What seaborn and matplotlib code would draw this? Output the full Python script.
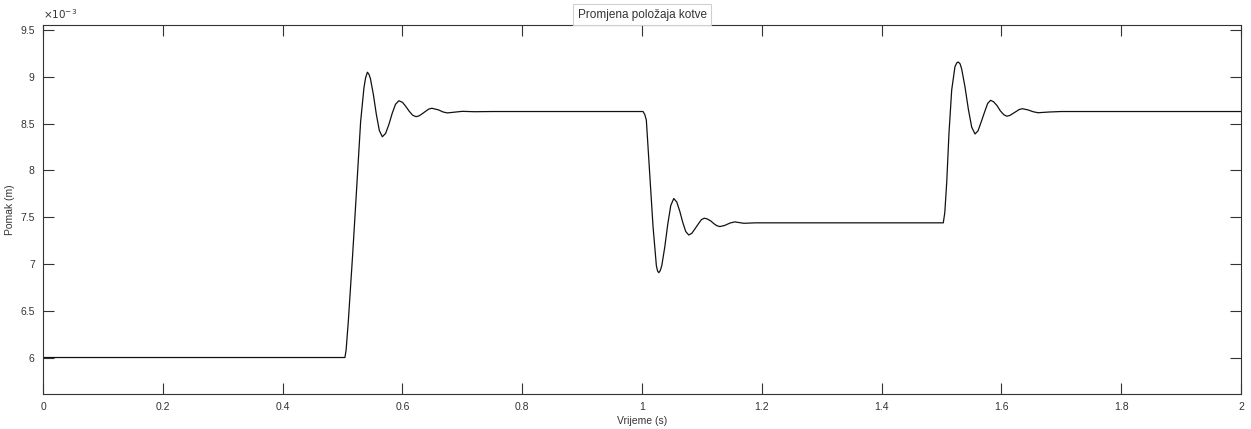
import matplotlib
matplotlib.use("Agg")
import matplotlib.pyplot as plt
import matplotlib.ticker as mticker
import pandas as pd
import seaborn as sns

# armature position (time in s, position in mm)
t_step1 = [0.0, 0.5, 0.504, 0.506, 0.5097, 0.5169, 0.5236, 0.5302, 0.5357, 0.5385, 0.5415,
           0.544, 0.5465, 0.5515, 0.5565, 0.5615, 0.5665, 0.572, 0.5775, 0.583, 0.5885, 0.594,
           0.6, 0.6055, 0.6112, 0.617, 0.6227, 0.628, 0.633, 0.639, 0.644, 0.649,
           0.66, 0.668, 0.675, 0.688, 0.70, 0.72, 0.75]
x_step1 = [6.0, 6.0, 6.0, 6.08, 6.39, 7.10, 7.81, 8.52, 8.88, 8.99, 9.05,
           9.03, 8.984, 8.812, 8.598, 8.426, 8.36, 8.397, 8.493, 8.612, 8.708, 8.745,
           8.729, 8.686, 8.634, 8.591, 8.575, 8.584, 8.606, 8.634, 8.656, 8.665,
           8.648, 8.625, 8.615, 8.624, 8.632, 8.628, 8.63]

t_step2 = [1.0, 1.0017, 1.0045, 1.0072, 1.0128, 1.0184, 1.024, 1.026, 1.028, 1.0305,
           1.033, 1.038, 1.043, 1.048, 1.053, 1.058, 1.063, 1.068, 1.073, 1.078,
           1.083, 1.088, 1.094, 1.099, 1.104, 1.109, 1.115, 1.12, 1.125, 1.13,
           1.138, 1.147, 1.155, 1.17, 1.19]
x_step2 = [8.63, 8.63, 8.60, 8.54, 7.97, 7.40, 6.98, 6.925, 6.907, 6.93,
           6.982, 7.181, 7.426, 7.625, 7.70, 7.663, 7.565, 7.445, 7.347, 7.31,
           7.327, 7.372, 7.428, 7.473, 7.49, 7.481, 7.459, 7.431, 7.409, 7.40,
           7.412, 7.438, 7.45, 7.435, 7.44]

t_step3 = [1.5, 1.503, 1.5055, 1.5087, 1.5125, 1.517, 1.5225, 1.5255, 1.528, 1.531,
           1.5336, 1.5392, 1.5448, 1.5504, 1.556, 1.561, 1.566, 1.572, 1.577, 1.582,
           1.587, 1.593, 1.598, 1.604, 1.609, 1.614, 1.619, 1.625, 1.63, 1.635,
           1.644, 1.653, 1.661, 1.68, 1.70, 2.0]
x_step3 = [7.44, 7.44, 7.55, 7.87, 8.40, 8.86, 9.11, 9.15, 9.16, 9.14,
           9.087, 8.894, 8.656, 8.463, 8.39, 8.424, 8.514, 8.626, 8.716, 8.75,
           8.734, 8.691, 8.639, 8.596, 8.58, 8.588, 8.608, 8.632, 8.652, 8.66,
           8.648, 8.628, 8.617, 8.625, 8.63, 8.63]

x_ticks = [0, 0.2, 0.4, 0.6, 0.8, 1.0, 1.2, 1.4, 1.6, 1.8, 2.0]
y_ticks_mm = [6, 6.5, 7, 7.5, 8, 8.5, 9, 9.5]

df = pd.DataFrame({
    "t": t_step1 + t_step2 + t_step3,
    "pos": [v * 1e-3 for v in x_step1 + x_step2 + x_step3],
})

sns.set_theme(style="white")
plt.rcParams["font.family"] = ["Liberation Sans", "DejaVu Sans"]
grey = "#333333"

fig = plt.figure(figsize=(12.51, 4.29), dpi=100)
ax = fig.add_axes([0.0344, 0.0816, 0.9576, 0.8601])

sns.lineplot(data=df, x="t", y="pos", color="#111111", linewidth=0.9,
             estimator=None, sort=False, ax=ax)

ax.set_xlim(0, 2)
ax.set_ylim(5.61e-3, 9.555e-3)
ax.set_xticks(x_ticks)
ax.set_yticks([v * 1e-3 for v in y_ticks_mm])
ax.xaxis.set_major_formatter(mticker.FuncFormatter(lambda v, p: f"{v:g}"))
ax.yaxis.set_major_formatter(mticker.FuncFormatter(lambda v, p: f"{v * 1e3:g}"))
ax.tick_params(direction="in", length=8, width=0.8, colors=grey, labelsize=7.5,
               top=True, right=True, bottom=True, left=True, pad=6)
for s in ax.spines.values():
    s.set_color(grey)
    s.set_linewidth(0.8)

ax.set_xlabel("Vrijeme (s)", fontsize=7.5, color=grey, labelpad=3)
ax.set_ylabel("Pomak (m)", fontsize=7.5, color=grey, labelpad=4)
ax.text(0.0, 1.01, r"$\times 10^{-3}$", transform=ax.transAxes,
        fontsize=7.5, color=grey, ha="left", va="bottom")

ax.annotate("Promjena položaja kotve", xy=(0.5, 1.0), xycoords="axes fraction",
            xytext=(0, 7.5), textcoords="offset points", ha="center", va="center",
            fontsize=8.5, color=grey, zorder=5,
            bbox=dict(boxstyle="square,pad=0.35", fc="white", ec="#d0d0d0", lw=0.8))

fig.savefig("out.png", dpi=100)
